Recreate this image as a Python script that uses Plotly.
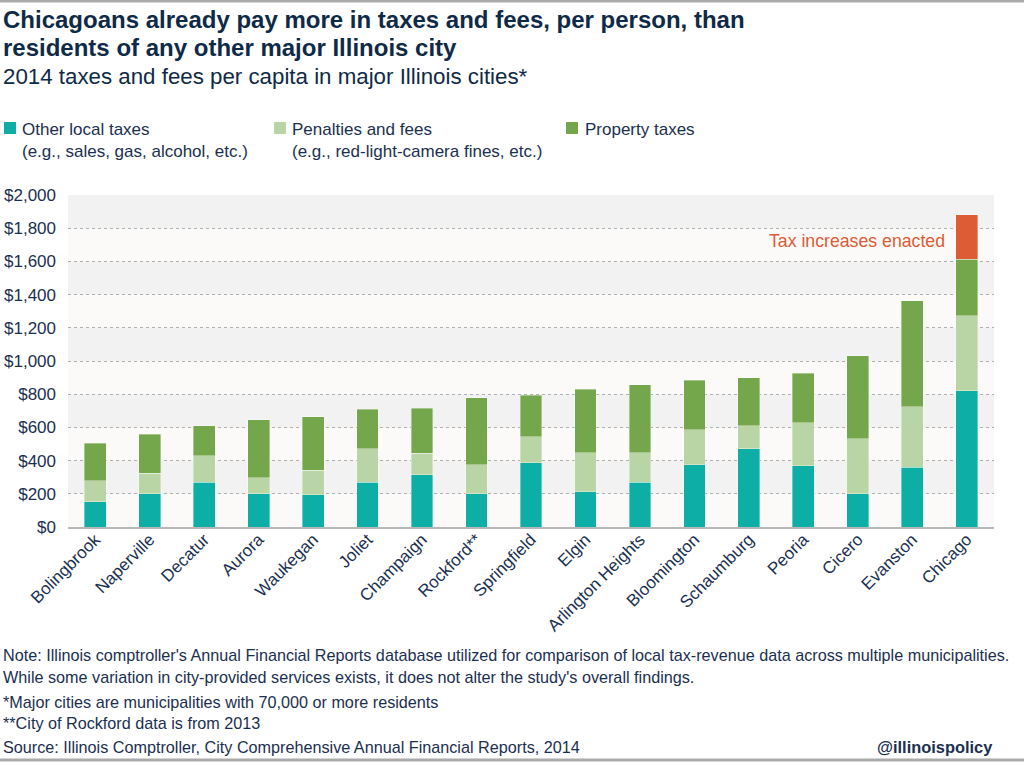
import plotly.graph_objects as go

cities = ["Bolingbrook", "Naperville", "Decatur", "Aurora", "Waukegan", "Joliet",
          "Champaign", "Rockford**", "Springfield", "Elgin", "Arlington Heights",
          "Bloomington", "Schaumburg", "Peoria", "Cicero", "Evanston", "Chicago"]
other_local = [151, 201, 271, 201, 193, 271, 316, 201, 386, 211, 271, 376, 472, 368, 201, 360, 822]
penalties = [128, 123, 157, 96, 149, 201, 128, 175, 157, 235, 175, 211, 139, 261, 332, 364, 452]
property_tax = [227, 235, 183, 350, 321, 236, 272, 402, 251, 384, 410, 296, 289, 298, 498, 639, 340]
tax_increase = [None] * 16 + [267]
y_ticks = [0, 200, 400, 600, 800, 1000, 1200, 1400, 1600, 1800, 2000]
y_labels = ["$" + format(v, ",") for v in y_ticks]

NAVY = "#1b3050"
TITLE = "#0f2a47"
TEAL = "#0daea6"
LIGHT = "#b9d4a5"
GREEN = "#74a64b"
RED = "#dd5b35"
SANS = "Liberation Sans, Arial, sans-serif"

L, R, T, B = 68, 994, 195, 527
def px(x):
    return (x - L) / (R - L)
def py(y):
    return (B - y) / (B - T)

fig = go.Figure()
edge = dict(width=0.6, color="rgba(255,255,255,0.6)")
fig.add_bar(x=cities, y=other_local, marker=dict(color=TEAL, line=edge), name="Other local taxes")
fig.add_bar(x=cities, y=penalties, marker=dict(color=LIGHT, line=edge), name="Penalties and fees")
fig.add_bar(x=cities, y=property_tax, marker=dict(color=GREEN, line=edge), name="Property taxes")
fig.add_bar(x=cities, y=tax_increase, marker=dict(color=RED, line=edge), name="Tax increases enacted")

shapes = []
for i, lo in enumerate(y_ticks[:-1]):
    hi = y_ticks[i + 1]
    shapes.append(dict(type="rect", xref="paper", yref="y", x0=0, x1=1, y0=lo, y1=hi,
                       fillcolor="#fbfaf8" if (lo // 200) % 2 == 0 else "#f2f2f2",
                       line=dict(width=0), layer="below"))
shapes.append(dict(type="line", xref="paper", yref="paper", x0=px(0), x1=px(1024),
                   y0=py(1), y1=py(1), line=dict(color="#aaaaaa", width=3)))
shapes.append(dict(type="line", xref="paper", yref="paper", x0=px(0), x1=px(1024),
                   y0=py(760), y1=py(760), line=dict(color="#aaaaaa", width=3)))
# legend squares
for x0, col in [(4, TEAL), (274, LIGHT), (566, GREEN)]:
    shapes.append(dict(type="rect", xref="paper", yref="paper", x0=px(x0), x1=px(x0 + 12),
                       y0=py(134), y1=py(122), fillcolor=col, line=dict(width=0)))

ann = []
def text(x, y, s, size, color=NAVY, xanchor="left"):
    ann.append(dict(x=px(x), y=py(y), xref="paper", yref="paper", text=s, showarrow=False,
                    xanchor=xanchor, yanchor="middle", align="left",
                    font=dict(family=SANS, size=size, color=color)))

text(1, 19, "<b>Chicagoans already pay more in taxes and fees, per person, than</b>", 24, TITLE)
text(1, 47, "<b>residents of any other major Illinois city</b>", 24, TITLE)
text(1, 76, "2014 taxes and fees per capita in major Illinois cities*", 22.3, TITLE)
text(20, 129, "Other local taxes", 17)
text(20, 152, "(e.g., sales, gas, alcohol, etc.)", 17)
text(290, 129, "Penalties and fees", 17)
text(290, 152, "(e.g., red-light-camera fines, etc.)", 17)
text(583, 129, "Property taxes", 17)
text(1, 655, "Note: Illinois comptroller's Annual Financial Reports database utilized for comparison of local tax-revenue data across multiple municipalities.", 16.2)
text(1, 677, "While some variation in city-provided services exists, it does not alter the study's overall findings.", 16.2)
text(1, 702, "*Major cities are municipalities with 70,000 or more residents", 16.2)
text(1, 723, "**City of Rockford data is from 2013", 16.2)
text(1, 747, "Source: Illinois Comptroller, City Comprehensive Annual Financial Reports, 2014", 16.2)
text(995, 747, "<b>@illinoispolicy</b>", 16.4, NAVY, "right")
ann.append(dict(x="Chicago", y=1720, xref="x", yref="y", text="Tax increases enacted",
                showarrow=False, xanchor="right", yanchor="middle", xshift=-20,
                font=dict(family=SANS, size=17.7, color=RED)))

fig.update_layout(
    width=1024, height=766, barmode="stack", bargap=0.6,
    margin=dict(l=L, r=1024 - R, t=T, b=766 - B, autoexpand=False),
    paper_bgcolor="white", plot_bgcolor="#f2f2f2",
    showlegend=False, shapes=shapes, annotations=ann,
    font=dict(family=SANS, color=NAVY),
    xaxis=dict(tickangle=-45, tickfont=dict(size=17, color=NAVY, family=SANS), automargin=False,
               ticklabelstandoff=-6,
               showline=True, linecolor="#b8b8b8", linewidth=2, ticks="", showgrid=False),
    yaxis=dict(range=[0, 2000], tickvals=y_ticks, ticktext=y_labels, automargin=False,
               tickfont=dict(size=17, color=NAVY, family=SANS), ticklabelstandoff=11,
               showgrid=True, gridcolor="#b0b0b0", griddash="dot", gridwidth=1,
               zeroline=False, showline=False),
)
fig.write_html("out.html", config={"displayModeBar": False},
               post_script="document.body.style.margin='0';document.body.style.overflow='hidden';")
